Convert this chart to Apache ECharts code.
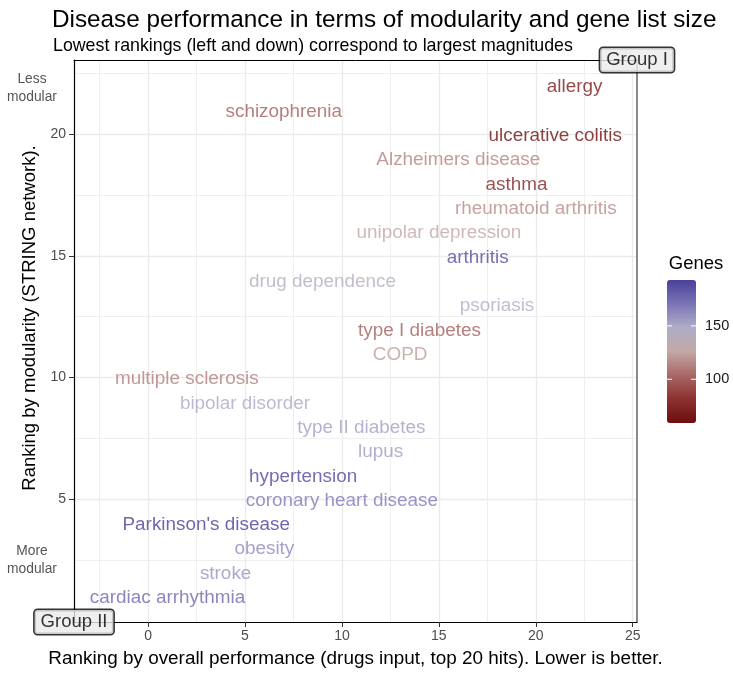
<!DOCTYPE html>
<html><head><meta charset="utf-8">
<script src="https://cdn.jsdelivr.net/npm/echarts@6/dist/echarts.min.js"></script>
<style>html,body{margin:0;padding:0;background:#fff}#c{width:733px;height:673px}</style>
</head><body><div id="c"></div>
<script>
const diseases = ["allergy","schizophrenia","ulcerative colitis","Alzheimers disease","asthma","rheumatoid arthritis","unipolar depression","arthritis","drug dependence","psoriasis","type I diabetes","COPD","multiple sclerosis","bipolar disorder","type II diabetes","lupus","hypertension","coronary heart disease","Parkinson's disease","obesity","stroke","cardiac arrhythmia"];
const perfRank = [22,7,21,16,19,20,15,17,9,18,14,13,2,5,11,12,8,10,3,6,4,1];
const modRank  = [22,21,20,19,18,17,16,15,14,13,12,11,10,9,8,7,6,5,4,3,2,1];
const genes    = [67,100,60,113,75,116,126,188,142,145,100,122,112,150,154,155,190,168,193,162,158,176];
const xTicks = [0,5,10,15,20,25];
const xMinor = [-2.5,2.5,7.5,12.5,17.5,22.5];
const yTicks = [5,10,15,20];
const yMinor = [2.5,7.5,12.5,17.5,22.5];
const legendTicks = [100,150];
const groupNames = ["Group I","Group II"];

const FONT = "'Liberation Sans', Arial, Helvetica, sans-serif";
const xMin = -3.82, xMax = 25.22, yMin = -0.05, yMax = 23.05;
const gMin = 59, gMax = 193;

const data = diseases.map((d,i)=>[perfRank[i], modRank[i], genes[i], d]);

const chart = echarts.init(document.getElementById('c'), null, {renderer:'canvas'});
const option = {
  animation:false,
  backgroundColor:'#fff',
  title:[
    {text:'Disease performance in terms of modularity and gene list size', left:52, top:8, padding:0,
     textStyle:{fontSize:24.3, fontWeight:'normal', color:'#000', fontFamily:FONT}},
    {text:'Lowest rankings (left and down) correspond to largest magnitudes', left:53, top:37, padding:0,
     textStyle:{fontSize:17.8, fontWeight:'normal', color:'#000', fontFamily:FONT}}
  ],
  grid:{left:74, right:96, top:60, bottom:49, containLabel:false},
  xAxis:[
    {type:'value', min:xMin, max:xMax, position:'bottom',
     name:'Ranking by overall performance (drugs input, top 20 hits). Lower is better.',
     nameLocation:'middle', nameGap:27,
     nameTextStyle:{fontSize:18.9, color:'#000', fontFamily:FONT},
     axisLine:{onZero:false, lineStyle:{color:'#000', width:1.2}},
     axisTick:{show:true, customValues:xTicks, length:5, lineStyle:{color:'#333'}},
     axisLabel:{customValues:xTicks, margin:7, color:'#4d4d4d', fontSize:14, fontFamily:FONT},
     splitLine:{show:true, lineStyle:{color:'#ebebeb', width:1.3}}},
    {type:'value', min:xMin, max:xMax, position:'top',
     axisLine:{onZero:false, lineStyle:{color:'#000', width:1}},
     axisTick:{show:false, customValues:xMinor},
     axisLabel:{show:false},
     splitLine:{show:true, lineStyle:{color:'#ebebeb', width:0.8}}}
  ],
  yAxis:[
    {type:'value', min:yMin, max:yMax, position:'left',
     axisLine:{onZero:false, lineStyle:{color:'#000', width:1.2}},
     axisTick:{show:true, customValues:yTicks, length:5, lineStyle:{color:'#333'}},
     axisLabel:{customValues:yTicks, margin:8, color:'#4d4d4d', fontSize:14, fontFamily:FONT},
     splitLine:{show:true, lineStyle:{color:'#ebebeb', width:1.3}}},
    {type:'value', min:yMin, max:yMax, position:'right',
     axisLine:{onZero:false, lineStyle:{color:'#8a8a8a', width:2}},
     axisTick:{show:false, customValues:yMinor},
     axisLabel:{show:false},
     splitLine:{show:true, lineStyle:{color:'#ebebeb', width:0.8}}}
  ],
  visualMap:{
    type:'continuous', min:gMin, max:gMax, dimension:2, seriesIndex:0,
    calculable:false, hoverLink:false, orient:'vertical', left:667, top:280,
    itemWidth:29, itemHeight:143, padding:0,
    inRange:{color:['#6e0e0e','#8c3030','#a86866','#c2a8a6','#b0adc8','#7a74b6','#4a4199']}
  },
  series:[
    {type:'scatter', name:'diseases', data:data, symbolSize:0, clip:false,
     label:{show:true, position:'inside', offset:[0,1.5], formatter:p=>p.data[3], color:'inherit',
            fontSize:18.9, fontFamily:FONT},
     emphasis:{disabled:true}},
    {type:'scatter', name:'groups', xAxisIndex:0, yAxisIndex:0, symbolSize:0, clip:false, z:10,
     data:[[xMax, yMax, groupNames[0]],[xMin, yMin, groupNames[1]]],
     label:{show:true, position:'inside', formatter:p=>p.data[2], color:'#000',
            fontSize:18.5, fontFamily:FONT, backgroundColor:'#ebebeb', borderColor:'#000',
            borderWidth:1.5, borderRadius:3, padding:[3,6,2,6]},
     emphasis:{disabled:true}}
  ]
};
chart.setOption(option);

const legTop = 280, legH = 143, legL = 667, legW = 29;
const gfx = [];
gfx.push({type:'text', x:696, y:264, style:{text:'Genes', fontSize:18.5, fontFamily:FONT, fill:'#000',
  align:'center', textAlign:'center', verticalAlign:'middle', textVerticalAlign:'middle'}});
legendTicks.forEach(v=>{
  const y = legTop + (gMax - v)/(gMax-gMin)*legH;
  gfx.push({type:'line', shape:{x1:legL, y1:y, x2:legL+5, y2:y}, style:{stroke:'#fff', lineWidth:1}, z:100});
  gfx.push({type:'line', shape:{x1:legL+legW-5, y1:y, x2:legL+legW, y2:y}, style:{stroke:'#fff', lineWidth:1}, z:100});
  gfx.push({type:'text', x:705, y:y, style:{text:String(v), fontSize:14.5, fontFamily:FONT, fill:'#1a1a1a',
    align:'left', textAlign:'left', verticalAlign:'middle', textVerticalAlign:'middle'}});
});
const lessY = chart.convertToPixel({yAxisIndex:0}, 21.9);
const moreY = chart.convertToPixel({yAxisIndex:0}, 2.5);
[[lessY,'Less\nmodular'],[moreY,'More\nmodular']].forEach(([y,t])=>{
  gfx.push({type:'text', x:32, y:y, style:{text:t, fontSize:13.8, lineHeight:18.5, fontFamily:FONT, fill:'#555',
    align:'center', textAlign:'center', verticalAlign:'middle', textVerticalAlign:'middle'}});
});
gfx.push({type:'text', x:30, y:318, rotation:Math.PI/2,
  style:{text:'Ranking by modularity (STRING network).', fontSize:18.5, fontFamily:FONT, fill:'#000',
    align:'center', textAlign:'center', verticalAlign:'middle', textVerticalAlign:'middle'}});
chart.setOption({graphic:{elements:gfx}});
</script>
</body></html>
